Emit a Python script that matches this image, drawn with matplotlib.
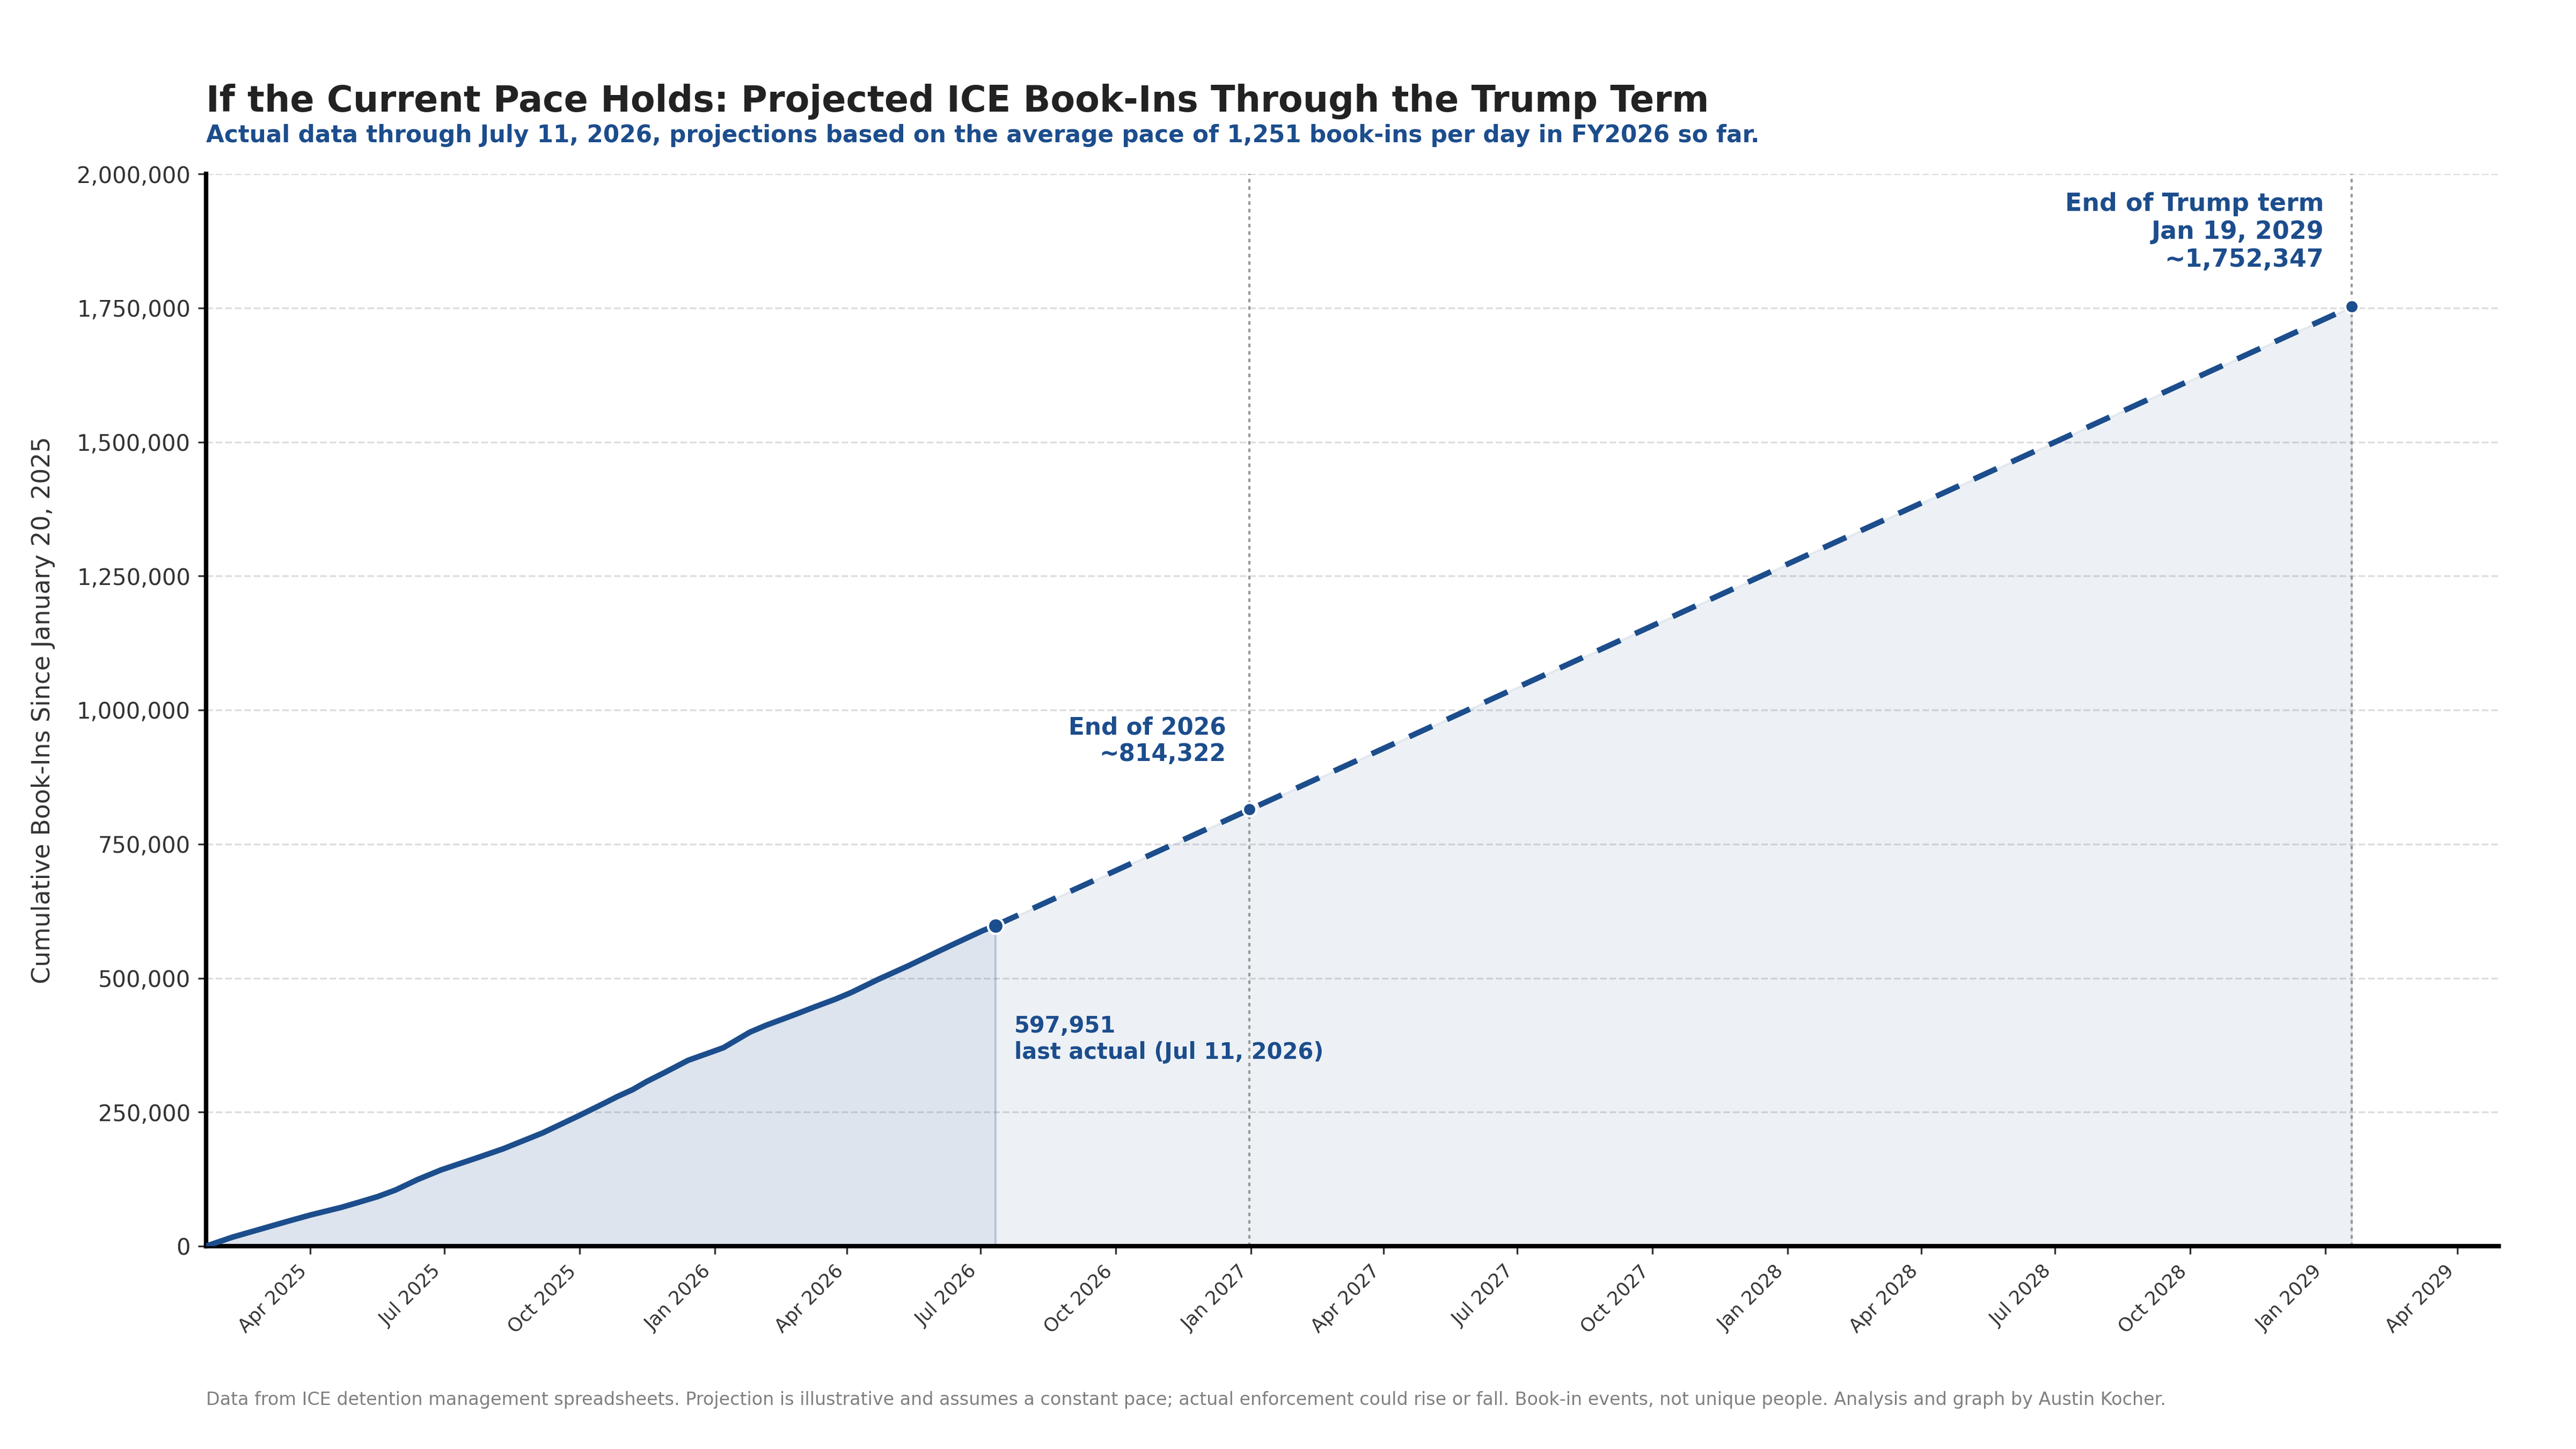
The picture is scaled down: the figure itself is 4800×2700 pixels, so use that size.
import matplotlib
matplotlib.use("Agg")
import matplotlib.pyplot as plt
import matplotlib.dates as mdates
from matplotlib.ticker import FuncFormatter, MultipleLocator
import pandas as pd

# actual cumulative book-ins since Jan 20, 2025
actual_dates = [
    "2025-01-20", "2025-02-07", "2025-02-28", "2025-03-16", "2025-04-01",
    "2025-04-22", "2025-05-03", "2025-05-17", "2025-05-29", "2025-06-13",
    "2025-06-29", "2025-07-24", "2025-08-10", "2025-09-06", "2025-10-01",
    "2025-10-18", "2025-10-27", "2025-11-06", "2025-11-16", "2025-11-29",
    "2025-12-14", "2025-12-26", "2026-01-07", "2026-01-25", "2026-02-05",
    "2026-02-25", "2026-03-10", "2026-03-24", "2026-04-04", "2026-04-22",
    "2026-05-13", "2026-06-01", "2026-06-12", "2026-07-02", "2026-07-11",
]
actual_values = [
    0, 16800, 33300, 45900, 58100,
    72300, 81100, 92600, 104800, 124300,
    142300, 165300, 181400, 211200, 243700,
    266700, 279200, 291600, 307300, 325200,
    346600, 358300, 370100, 399100, 411900,
    432300, 446100, 460400, 473100, 497100,
    523100, 548100, 562400, 587900, 597951,
]

# projection at constant pace: last actual, end of 2026, end of term
proj_dates = ["2026-07-11", "2026-12-31", "2029-01-19"]
proj_values = [597951, 814322, 1752347]

x_start = "2025-01-20"
x_end = "2029-04-29"

BLUE = "#1c4d8c"

act_x = pd.to_datetime(actual_dates)
proj_x = pd.to_datetime(proj_dates)

fig = plt.figure(figsize=(16, 9), dpi=300)
ax = fig.add_axes([0.08, 0.14, 0.89, 0.74])

ax.fill_between(act_x, actual_values, 0, color=BLUE, alpha=0.15, zorder=1)
ax.fill_between(proj_x, proj_values, 0, color=BLUE, alpha=0.08, zorder=1)

ax.plot(act_x, actual_values, color=BLUE, lw=2.5, zorder=3, solid_capstyle="round")
ax.plot(proj_x, proj_values, color=BLUE, lw=2.5, dashes=(4.5, 2.9), zorder=3)

for d in proj_x[1:]:
    ax.axvline(d, color="#999999", lw=1.0, dashes=(1.6, 1.75), zorder=2)

ax.plot(proj_x[0], proj_values[0], "o", color=BLUE, ms=7, mec="white", mew=1.0, zorder=5)
ax.plot(proj_x[1:], proj_values[1:], "o", color=BLUE, ms=6, mec="white", mew=1.0,
        ls="none", zorder=5)

txt = dict(color=BLUE, fontweight="bold", textcoords="offset points")
ax.annotate(f"{proj_values[0]:,}\nlast actual (Jul 11, 2026)",
            xy=(proj_x[0], proj_values[0]), xytext=(8.4, -40),
            ha="left", va="top", fontsize=10, **txt)
ax.annotate(f"End of 2026\n~{proj_values[1]:,}",
            xy=(proj_x[1], proj_values[1]), xytext=(-10.5, 19.5),
            ha="right", va="bottom", fontsize=10.5, **txt)
ax.annotate(f"End of Trump term\nJan 19, 2029\n~{proj_values[2]:,}",
            xy=(proj_x[2], proj_values[2]), xytext=(-12.5, 15.5),
            ha="right", va="bottom", fontsize=11, **txt)

ax.set_xlim(pd.Timestamp(x_start), pd.Timestamp(x_end))
ax.set_ylim(0, 2000000)
ax.yaxis.set_major_locator(MultipleLocator(250000))
ax.yaxis.set_major_formatter(FuncFormatter(lambda v, p: f"{v:,.0f}"))
ax.xaxis.set_major_locator(mdates.MonthLocator(bymonth=[1, 4, 7, 10]))
ax.xaxis.set_major_formatter(mdates.DateFormatter("%b %Y"))

ax.tick_params(axis="y", labelsize=10, colors="#333333")
ax.tick_params(axis="x", labelsize=8.5, colors="#333333")
for lab in ax.get_xticklabels():
    lab.set_rotation(45)
    lab.set_ha("right")

ax.yaxis.grid(True, linestyle="--", linewidth=0.8, color="#dddddd")
ax.set_axisbelow(True)

for s in ["top", "right"]:
    ax.spines[s].set_visible(False)
for s in ["left", "bottom"]:
    ax.spines[s].set_linewidth(2)
    ax.spines[s].set_color("black")

ax.set_ylabel("Cumulative Book-Ins Since January 20, 2025", fontsize=11, color="#333333")
ax.yaxis.set_label_coords(-0.0658, 0.5)

fig.text(0.08, 0.923, "If the Current Pace Holds: Projected ICE Book-Ins Through the Trump Term",
         fontsize=16, fontweight="bold", color="#222222", va="baseline")
fig.text(0.08, 0.902,
         "Actual data through July 11, 2026, projections based on the average pace of "
         "1,251 book-ins per day in FY2026 so far.",
         fontsize=10.5, fontweight="bold", color=BLUE, va="baseline")
fig.text(0.08, 0.0304,
         "Data from ICE detention management spreadsheets. Projection is illustrative and "
         "assumes a constant pace; actual enforcement could rise or fall. Book-in events, "
         "not unique people. Analysis and graph by Austin Kocher.",
         fontsize=8, color="#808080", va="baseline")

fig.savefig("out.png", dpi=300)
